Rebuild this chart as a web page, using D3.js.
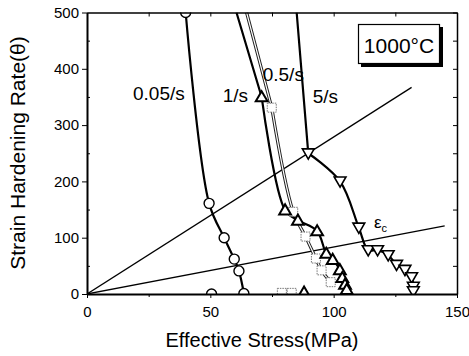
<!DOCTYPE html>
<html>
<head>
<meta charset="utf-8">
<script src="https://cdn.jsdelivr.net/npm/d3@7"></script>
<style>
body { margin: 0; background: #fff; }
text { font-family: "Liberation Sans", Arial, sans-serif; fill: #000; }
</style>
</head>
<body>
<svg id="chart" width="469" height="356"></svg>
<script>
// values: [effective stress (MPa), theta]
var rateNames = ["0.05/s", "0.5/s", "1/s", "5/s"]
var topStress = [null, 64.7, 60.6, 85]   // where a curve comes in from above 500

var s005 = [[40, 500], [49.5, 161], [55.6, 100], [59.7, 62], [61.6, 41], [63.6, 1]]
var s05 = [[74.9, 331], [83.6, 146], [88.6, 102], [92.8, 63], [95.1, 42], [98.8, 21]]
var s1 = [[70.8, 350], [80.3, 149], [85.5, 131], [93.3, 112], [97, 72], [99.6, 61],
          [102.5, 43], [103.5, 29], [104.6, 17], [105.3, 8]]
var s5 = [[89.7, 250], [102.6, 200], [110.2, 118], [114, 78], [117.8, 78], [122.1, 69],
          [125.5, 52], [128.9, 43], [131.6, 30], [132.3, 13], [132.3, 5]]

// loose points lying on the zero line
var zero005 = [[50.5, 0]]
var zero05 = [[79, 2], [83, 2]]
var zero1 = [[88, 3]]

// the two straight construction lines through the origin
var steepLine = [[0, 0], [131.6, 367]]
var ecLine = [[0, 0], [145, 121]]

var xTicks = [0, 50, 100, 150]
var yTicks = [0, 100, 200, 300, 400, 500]

var svg = d3.select("#chart")
var x = d3.scaleLinear().domain([0, 150]).range([87, 457])
var y = d3.scaleLinear().domain([0, 500]).range([294, 12.5])

svg.append("clipPath").attr("id", "plotclip")
    .append("rect")
    .attr("x", x(0)).attr("y", y(500))
    .attr("width", x(150) - x(0)).attr("height", y(0) - y(500))

var plot = svg.append("g").attr("clip-path", "url(#plotclip)")

var line = d3.line()
    .x(function(d) { return x(d[0]) })
    .y(function(d) { return y(d[1]) })

//Straight lines.
plot.selectAll(".ref")
    .data([steepLine, ecLine])
    .enter().append("path")
    .attr("d", line)
    .attr("fill", "none")
    .attr("stroke", "#000")
    .attr("stroke-width", 1.3)

var curve = d3.line()
    .x(function(d) { return x(d[0]) })
    .y(function(d) { return y(d[1]) })
    .curve(d3.curveCatmullRom.alpha(0.5))

// straight piece from the top edge, then a smooth curve through the points
function seriesPath(i, pts) {
    var d = curve(pts)
    if (topStress[i] != null) d = line([[topStress[i], 500], pts[0]]) + d
    return d
}

// 0.5/s is drawn as a hollow (double) stroke
plot.append("path")
    .attr("d", seriesPath(1, s05))
    .attr("fill", "none").attr("stroke", "#222").attr("stroke-width", 3.2)
plot.append("path")
    .attr("d", seriesPath(1, s05))
    .attr("fill", "none").attr("stroke", "#fff").attr("stroke-width", 1.2)

plot.selectAll(".solid")
    .data([seriesPath(0, s005), seriesPath(2, s1), seriesPath(3, s5)])
    .enter().append("path")
    .attr("d", function(d) { return d })
    .attr("fill", "none")
    .attr("stroke", "#000")
    .attr("stroke-width", 2.2)

//Markers.
plot.selectAll(".sq")
    .data(s05.concat(zero05))
    .enter().append("rect")
    .attr("x", function(d) { return x(d[0]) - 4.5 })
    .attr("y", function(d) { return y(d[1]) - 4.5 })
    .attr("width", 9).attr("height", 9)
    .attr("fill", "#fff")
    .attr("stroke", "#777")
    .attr("stroke-width", 1)
    .attr("stroke-dasharray", "1.5,1")

plot.selectAll(".circ")
    .data(s005.concat(zero005))
    .enter().append("circle")
    .attr("cx", function(d) { return x(d[0]) })
    .attr("cy", function(d) { return y(d[1]) })
    .attr("r", 5)
    .attr("fill", "#fff")
    .attr("stroke", "#000")
    .attr("stroke-width", 1.4)

var tri = d3.symbol().type(d3.symbolTriangle).size(60)

plot.selectAll(".up")
    .data(s1.concat(zero1))
    .enter().append("path")
    .attr("d", tri)
    .attr("transform", function(d) { return "translate(" + x(d[0]) + "," + (y(d[1]) + 1) + ")" })
    .attr("fill", "#fff")
    .attr("stroke", "#000")
    .attr("stroke-width", 2)

plot.selectAll(".down")
    .data(s5)
    .enter().append("path")
    .attr("d", tri)
    .attr("transform", function(d) { return "translate(" + x(d[0]) + "," + (y(d[1]) - 1) + ") rotate(180)" })
    .attr("fill", "#fff")
    .attr("stroke", "#000")
    .attr("stroke-width", 1.6)

//Axes.
var yMinor = d3.range(50, 500, 100)
var xMinor = d3.range(25, 150, 50)

svg.append("g")
    .attr("transform", "translate(" + x(0) + ",0)")
    .call(d3.axisLeft(y).tickValues(yTicks).tickSize(5).tickSizeOuter(0).tickPadding(3))
    .call(function(g) {
        g.select(".domain").attr("stroke-width", 2)
        g.selectAll("text").attr("font-size", 15).attr("font-family", "Liberation Sans, Arial")
    })

svg.append("g")
    .attr("transform", "translate(0," + y(0) + ")")
    .call(d3.axisBottom(x).tickValues(xTicks).tickSize(4).tickSizeOuter(0).tickPadding(8))
    .call(function(g) {
        g.select(".domain").attr("stroke-width", 2)
        g.selectAll("text").attr("font-size", 15).attr("font-family", "Liberation Sans, Arial")
    })

svg.append("g")
    .attr("transform", "translate(" + x(150) + ",0)")
    .call(d3.axisLeft(y).tickValues(yTicks.concat(yMinor)).tickSize(4).tickSizeOuter(0).tickFormat(""))
    .call(function(g) { g.select(".domain").attr("stroke-width", 1.5) })

svg.append("g")
    .attr("transform", "translate(0," + y(500) + ")")
    .call(d3.axisBottom(x).tickValues(xTicks.concat(xMinor)).tickSize(4).tickSizeOuter(0).tickFormat(""))
    .call(function(g) { g.select(".domain").attr("stroke-width", 1.5) })

svg.append("g")
    .attr("transform", "translate(" + x(0) + ",0)")
    .call(d3.axisRight(y).tickValues(yMinor).tickSize(3).tickFormat(""))
    .call(function(g) { g.select(".domain").remove() })

svg.append("g")
    .attr("transform", "translate(0," + y(0) + ")")
    .call(d3.axisBottom(x).tickValues(xMinor).tickSize(3).tickFormat(""))
    .call(function(g) { g.select(".domain").remove() })

//Titles.
svg.append("text")
    .attr("x", (x(0) + x(150)) / 2 - 10)
    .attr("y", 347)
    .attr("text-anchor", "middle")
    .attr("font-size", 20)
    .text("Effective Stress(MPa)")

svg.append("text")
    .attr("transform", "translate(25,153) rotate(-90)")
    .attr("text-anchor", "middle")
    .attr("font-size", 21)
    .text("Strain Hardening Rate(θ)")

//Curve labels.
var labelPos = [[133, 100], [262.7, 81], [222.7, 102], [312.7, 103]]
svg.selectAll(".lab")
    .data(rateNames)
    .enter().append("text")
    .attr("x", function(d, i) { return labelPos[i][0] })
    .attr("y", function(d, i) { return labelPos[i][1] })
    .attr("font-size", 19)
    .text(function(d) { return d })

var ec = svg.append("text").attr("x", 374).attr("y", 228).attr("font-size", 17)
ec.append("tspan").text("ε")
ec.append("tspan").attr("font-size", 11).attr("dy", 4).text("c")

//Temperature box with shadow.
svg.append("rect").attr("x", 361).attr("y", 27).attr("width", 82).attr("height", 40).attr("fill", "#000")
svg.append("rect").attr("x", 358.5).attr("y", 24.5).attr("width", 81).attr("height", 39)
    .attr("fill", "#fff").attr("stroke", "#000").attr("stroke-width", 1.2)
svg.append("text")
    .attr("x", 399).attr("y", 53)
    .attr("text-anchor", "middle")
    .attr("font-size", 21)
    .text("1000°C")
</script>
</body>
</html>
